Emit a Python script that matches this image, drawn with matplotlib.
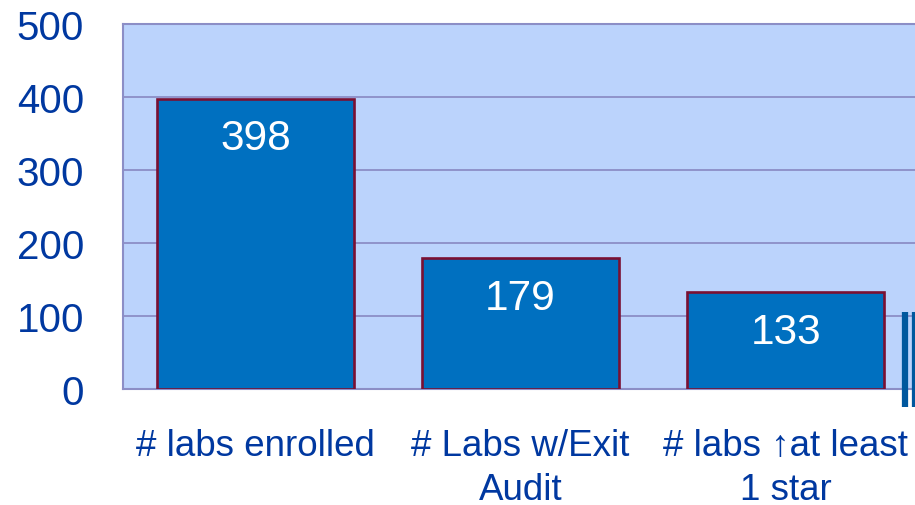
import matplotlib
matplotlib.use('Agg')
import matplotlib.pyplot as plt
from matplotlib.lines import Line2D

# Dữ liệu của biểu đồ
categories = ['# labs enrolled', '# Labs w/Exit\nAudit', '# labs \u2191at least\n1 star']
values = [398, 179, 133]
y_ticks = [0, 100, 200, 300, 400, 500]

# Màu sắc
bg_color = '#BBD3FC'
bar_color = '#0070C0'
edge_color = '#7A1032'
grid_color = '#8C8EC6'
text_color = '#0038A0'

plt.rcParams['font.family'] = ['Liberation Sans', 'DejaVu Sans']


def draw_chart():
    fig = plt.figure(figsize=(9.15, 5.06), dpi=100)
    ax = fig.add_axes([0.1344, 0.2292, 0.869, 0.7213])
    ax.set_facecolor(bg_color)

    x = list(range(len(categories)))
    ax.bar(x, values, width=0.745, color=bar_color, edgecolor=edge_color,
           linewidth=1.9, zorder=3)

    # Nhãn giá trị trên cột
    for xi, v in zip(x, values):
        ax.annotate(str(v), (xi, v), xytext=(0, -28.5), textcoords='offset points',
                    ha='center', va='center', color='white', fontsize=30.5, zorder=4)

    ax.set_xlim(-0.5, 2.5)
    ax.set_ylim(0, 500)
    ax.set_yticks(y_ticks)
    ax.set_xticks(x)
    ax.set_xticklabels(categories, linespacing=1.32)

    ax.tick_params(axis='y', length=0, pad=28, labelsize=29, labelcolor=text_color)
    ax.tick_params(axis='x', length=0, pad=28, labelsize=26.5, labelcolor=text_color)

    ax.yaxis.grid(True, color=grid_color, linewidth=1.3, zorder=1)
    ax.set_axisbelow(True)
    for side in ['left', 'top', 'bottom', 'right']:
        ax.spines[side].set_color(grid_color)
        ax.spines[side].set_linewidth(1.5)

    # Hai vạch dọc ở mép phải (phần bị cắt của hình gốc)
    for fx in [0.9891, 0.9995]:
        fig.add_artist(Line2D([fx, fx], [0.194, 0.381], color='#00589E',
                              linewidth=4.5, solid_capstyle='butt'))

    return fig


def main():
    fig = draw_chart()
    fig.savefig('out.png', dpi=100)


if __name__ == '__main__':
    main()
